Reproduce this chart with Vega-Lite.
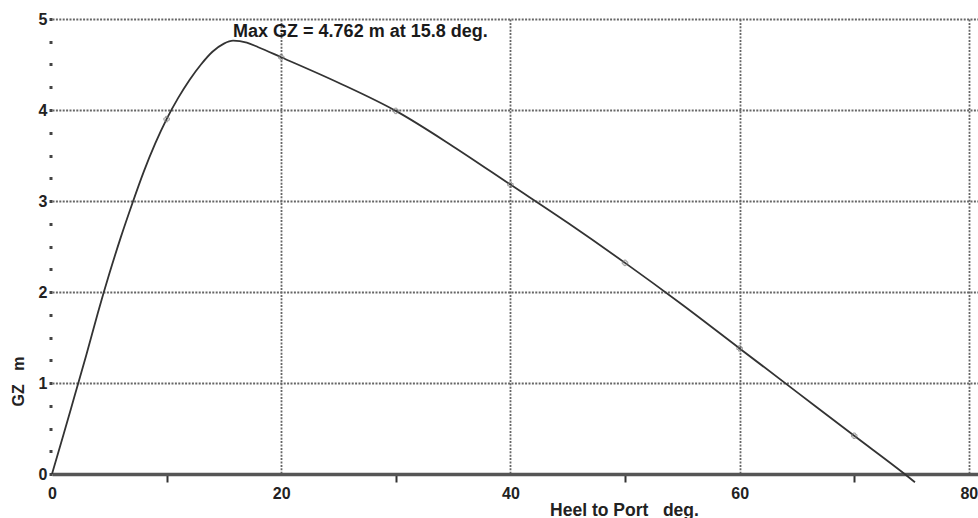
{
  "$schema": "https://vega.github.io/schema/vega-lite/v6.json",
  "width": 926,
  "height": 455,
  "autosize": {"type": "none"},
  "padding": {"left": 52, "top": 19, "right": 0, "bottom": 44},
  "background": "white",
  "config": {
    "view": {"stroke": null},
    "font": "Liberation Sans"
  },
  "datasets": {
    "gz": [
      {"heel": 0, "gz": 0},
      {"heel": 1, "gz": 0.43},
      {"heel": 2, "gz": 0.87},
      {"heel": 3, "gz": 1.31},
      {"heel": 4, "gz": 1.77},
      {"heel": 5, "gz": 2.2},
      {"heel": 6, "gz": 2.6},
      {"heel": 7, "gz": 2.97},
      {"heel": 8, "gz": 3.32},
      {"heel": 9, "gz": 3.63},
      {"heel": 10, "gz": 3.9},
      {"heel": 11, "gz": 4.13},
      {"heel": 12, "gz": 4.33},
      {"heel": 13, "gz": 4.5},
      {"heel": 14, "gz": 4.64},
      {"heel": 15, "gz": 4.73},
      {"heel": 15.8, "gz": 4.762},
      {"heel": 17, "gz": 4.74},
      {"heel": 18, "gz": 4.69},
      {"heel": 20, "gz": 4.58},
      {"heel": 25, "gz": 4.3},
      {"heel": 30, "gz": 3.99},
      {"heel": 35, "gz": 3.6},
      {"heel": 40, "gz": 3.18},
      {"heel": 45, "gz": 2.76},
      {"heel": 50, "gz": 2.32},
      {"heel": 55, "gz": 1.86},
      {"heel": 60, "gz": 1.38},
      {"heel": 65, "gz": 0.9},
      {"heel": 70, "gz": 0.42},
      {"heel": 74.4, "gz": 0},
      {"heel": 75.3, "gz": -0.09}
    ],
    "note": [
      {"heel": 15.8, "gz": 4.762, "label": "Max GZ = 4.762 m at 15.8 deg."}
    ]
  },
  "layer": [
    {
      "data": {"name": "gz"},
      "mark": {"type": "line", "color": "#333333", "strokeWidth": 1.8, "interpolate": "monotone", "clip": false},
      "encoding": {
        "x": {
          "field": "heel", "type": "quantitative",
          "scale": {"domain": [0, 80.8], "nice": false, "zero": false},
          "axis": {
            "values": [0, 10, 20, 30, 40, 50, 60, 70, 80],
            "tickCount": 40,
            "title": "Heel to Port\u00a0\u00a0\u00a0deg.",
            "titleFont": "Liberation Sans",
            "titleFontSize": 17.5,
            "titleFontWeight": "bold",
            "titleColor": "#222222",
            "titleX": 572,
            "titleY": 36,
            "titleAnchor": "middle",
            "titleAlign": "center",
            "titleBaseline": "middle",
            "labelExpr": "datum.value % 20 === 0 ? format(datum.value, 'd') : ''",
            "labelFont": "Liberation Sans",
            "labelFontSize": 16,
            "labelFontWeight": "bold",
            "labelColor": "#222222",
            "labelPadding": 3,
            "labelFlush": false,
            "labelOverlap": false,
            "domain": true,
            "domainColor": "#555555",
            "domainWidth": 3.5,
            "ticks": true,
            "tickSize": 8,
            "tickWidth": 2,
            "tickColor": "#333333",
            "tickOpacity": {"condition": {"test": "datum.value % 20 === 10", "value": 1}, "value": 0},
            "grid": true,
            "gridColor": "#666666",
            "gridWidth": 1.8,
            "gridDash": [2, 1.4],
            "gridOpacity": {"condition": {"test": "datum.value % 20 === 0 && datum.value > 0", "value": 1}, "value": 0}
          }
        },
        "y": {
          "field": "gz", "type": "quantitative",
          "scale": {"domain": [0, 5], "nice": false, "zero": false},
          "axis": {
            "values": [0, 0.25, 0.5, 0.75, 1, 1.25, 1.5, 1.75, 2, 2.25, 2.5, 2.75, 3, 3.25, 3.5, 3.75, 4, 4.25, 4.5, 4.75, 5],
            "tickCount": 40,
            "title": "GZ\u00a0\u00a0\u00a0m",
            "titleFont": "Liberation Sans",
            "titleFontSize": 16,
            "titleFontWeight": "bold",
            "titleColor": "#222222",
            "titleX": -34,
            "titleY": 362,
            "titleAngle": -90,
            "titleAlign": "center",
            "titleBaseline": "middle",
            "labelExpr": "datum.value % 1 === 0 ? format(datum.value, 'd') : ''",
            "labelFont": "Liberation Sans",
            "labelFontSize": 16,
            "labelFontWeight": "bold",
            "labelColor": "#222222",
            "labelPadding": 2,
            "labelFlush": false,
            "labelOverlap": false,
            "domain": false,
            "ticks": true,
            "tickSize": 3,
            "tickWidth": 3,
            "tickColor": "#444444",
            "grid": true,
            "gridColor": "#666666",
            "gridWidth": 1.8,
            "gridDash": [2, 1.4],
            "gridOpacity": {"condition": {"test": "datum.value % 1 === 0 && datum.value > 0", "value": 1}, "value": 0}
          }
        }
      }
    },
    {
      "data": {"name": "gz"},
      "transform": [{"filter": "datum.heel % 10 === 0 && datum.heel > 0"}],
      "mark": {"type": "point", "shape": "cross", "size": 30, "filled": false, "color": "#777777", "strokeWidth": 1, "opacity": 0.7},
      "encoding": {
        "x": {"field": "heel", "type": "quantitative"},
        "y": {"field": "gz", "type": "quantitative"}
      }
    },
    {
      "data": {"name": "note"},
      "mark": {"type": "text", "align": "left", "baseline": "middle", "dy": -9, "font": "Liberation Sans", "fontSize": 18, "fontWeight": "bold", "color": "#1a1a1a"},
      "encoding": {
        "x": {"field": "heel", "type": "quantitative"},
        "y": {"field": "gz", "type": "quantitative"},
        "text": {"field": "label"}
      }
    }
  ]
}
